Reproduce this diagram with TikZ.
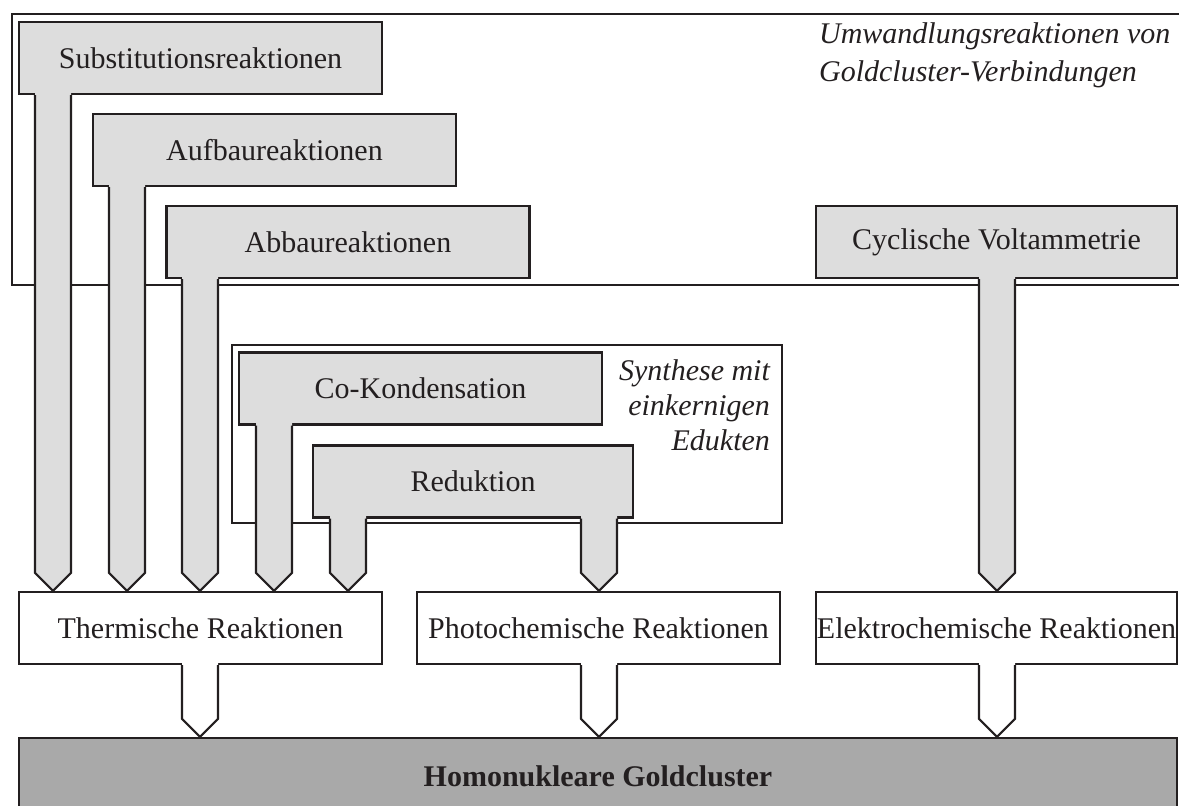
\documentclass[tikz,border=0pt]{standalone}
\usepackage{fontspec}
\setmainfont{Liberation Serif}
\usetikzlibrary{calc}
\definecolor{boxgray}{HTML}{DDDDDD}
\definecolor{goldgray}{HTML}{A9A9A9}
\definecolor{linecol}{HTML}{231F20}
% block arrow: fill, x of stem, from node, to node
\newcommand{\tstem}[4]{%
  \coordinate (s1) at (#2-18,0 |- #3.south);
  \coordinate (s2) at (#2+18,0 |- #3.south);
  \coordinate (tip) at (#2,0 |- #4.north);
  \fill[#1] ($(s1)+(0,-3)$) -- ($(tip)+(-18,-18)$) -- (tip) -- ($(tip)+(18,-18)$) -- ($(s2)+(0,-3)$) -- cycle;
  \draw (s1) -- ($(tip)+(-18,-18)$) -- (tip) -- ($(tip)+(18,-18)$) -- (s2);}
\begin{document}
\begin{tikzpicture}[x=0.5pt,y=-0.5pt,line width=1.1pt,color=linecol,
  every node/.style={font=\fontsize{15}{18}\selectfont},
  gbox/.style={draw,fill=boxgray,minimum width=181.5pt,minimum height=36pt,inner sep=0pt},
  rbox/.style={gbox,fill=white}]
\useasboundingbox (0,0) rectangle (1179,806);
% frames
\draw (1190,14) -- (12,14) -- (12,285) -- (1190,285);
\draw (232,345) rectangle (782,523);
\node[font=\fontsize{15}{19}\selectfont\itshape,align=left,anchor=west,inner sep=0pt] (umwtxt) at (818,55) {Umwandlungsreaktionen von\\Goldcluster-Verbindungen};
\node[font=\fontsize{15}{17.5}\selectfont\itshape,align=right,anchor=east,inner sep=0pt] (syntxt) at (771,405) {Synthese mit\\einkernigen\\Edukten};
% boxes
\node[gbox] (subst) at (200.5,58) {Substitutionsreaktionen};
\node[gbox] (aufbau) at (274.5,150) {Aufbaureaktionen};
\node[gbox] (abbau) at (348,242) {Abbaureaktionen};
\node[gbox] (cokond) at (420.5,388.5) {Co-Kondensation};
\node[gbox,minimum width=160pt] (redukt) at (473,481.5) {Reduktion};
\node[gbox,minimum width=180.5pt] (cyclo) at (996.5,242) {Cyclische Voltammetrie};
\node[rbox] (therm) at (200.5,628) {Thermische Reaktionen};
\node[rbox] (photo) at (598.5,628) {Photochemische Reaktionen};
\node[rbox,minimum width=180.5pt] (elektro) at (996.5,628) {Elektrochemische Reaktionen};
\node[draw,fill=goldgray,minimum width=579pt,minimum height=38.5pt,font=\fontsize{15}{18}\selectfont\bfseries] (gold) at (598,776.5) {Homonukleare Goldcluster};
% arrows
\foreach \x/\n in {53/subst,127/aufbau,200/abbau,274/cokond,348/redukt} \tstem{boxgray}{\x}{\n}{therm};
\tstem{boxgray}{599}{redukt}{photo};
\tstem{boxgray}{997}{cyclo}{elektro};
\foreach \x/\n in {200/therm,599/photo,997/elektro} \tstem{white}{\x}{\n}{gold};
\end{tikzpicture}
\end{document}
